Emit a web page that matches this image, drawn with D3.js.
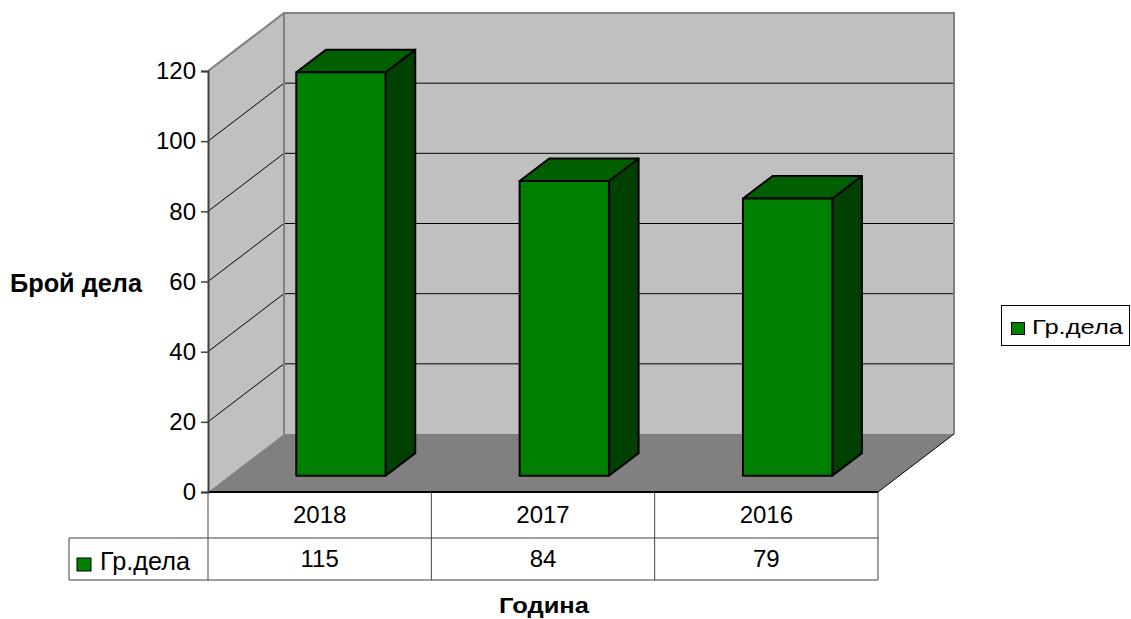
<!DOCTYPE html>
<html>
<head>
<meta charset="utf-8">
<script src="https://cdn.jsdelivr.net/npm/d3@7"></script>
<style>
  body { margin: 0; background: #fff; overflow: hidden; }
  svg { display: block; font-family: "Liberation Sans", Arial, sans-serif; }
</style>
</head>
<body>
<div class="plot"></div>
<script>
// DATA
var years = ["2018", "2017", "2016"];
var values = [115, 84, 79];
var yTicks = [0, 20, 40, 60, 80, 100, 120];
var seriesName = "Гр.дела";
var yTitle = "Брой дела";
var xTitle = "Година";

var w = 1131;
var h = 619;
// depth of the 3d box
var depthX = 76;
var depthY = -58;
var barFront = 0.28;
var barBack = 0.67;
var colors = { front: "#008000", top: "#006000", side: "#004000" };

var svg = d3.select(".plot").append("svg").attr("width", w).attr("height", h);

// SCALES
var xScale = d3.scaleBand()
  .domain(years)
  .range([208, 878])
  .paddingInner(0.6)
  .paddingOuter(0.3);

var catScale = d3.scaleBand()
  .domain(years)
  .range([208, 878]);

var yScale = d3.scaleLinear()
  .domain([0, 120])
  .range([492, 71]);

var x0 = xScale.range()[0], x1 = xScale.range()[1];
var yTop = yScale(120), yBot = yScale(0);

function pt(x, y, f) {
  return [x + f * depthX, y + f * depthY];
}
function poly(pts) {
  return pts.map(function (p) { return p.join(","); }).join(" ");
}

// WALLS
svg.append("polygon")
  .attr("points", poly([pt(x0, yTop, 1), pt(x1, yTop, 1), pt(x1, yBot, 1), pt(x0, yBot, 1)]))
  .attr("fill", "#c0c0c0");
svg.append("polygon")
  .attr("points", poly([pt(x0, yTop, 0), pt(x0, yTop, 1), pt(x0, yBot, 1), pt(x0, yBot, 0)]))
  .attr("fill", "#c0c0c0");

// floor
svg.append("polygon")
  .attr("points", poly([pt(x0, yBot, 0), pt(x1, yBot, 0), pt(x1, yBot, 1), pt(x0, yBot, 1)]))
  .attr("fill", "#808080");

// gridlines
var grid = svg.append("g").attr("class", "grid");
yTicks.filter(function (t) { return t > 0 && t < 120; }).forEach(function (t) {
  var a = pt(x0, yScale(t), 0), b = pt(x0, yScale(t), 1), c = pt(x1, yScale(t), 1);
  grid.append("polyline")
    .attr("points", poly([a, b, c]))
    .attr("fill", "none")
    .attr("stroke", "#000")
    .attr("stroke-width", 1);
});

// wall edges
svg.append("polyline")
  .attr("points", poly([pt(x0, yTop, 0), pt(x0, yTop, 1), pt(x1, yTop, 1), pt(x1, yBot, 1)]))
  .attr("fill", "none")
  .attr("stroke", "#808080")
  .attr("stroke-width", 2);
svg.append("line")
  .attr("x1", pt(x0, yTop, 1)[0]).attr("y1", pt(x0, yTop, 1)[1])
  .attr("x2", pt(x0, yBot, 1)[0]).attr("y2", pt(x0, yBot, 1)[1])
  .attr("stroke", "#808080")
  .attr("stroke-width", 2);

// BARS
var bars = svg.selectAll(".bar")
  .data(years.map(function (d, i) { return { year: d, value: values[i] }; }))
  .enter()
  .append("g")
  .attr("class", "bar")
  .attr("stroke", "#000")
  .attr("stroke-width", 2)
  .attr("stroke-linejoin", "round");

bars.append("polygon")
  .attr("fill", colors.side)
  .attr("points", function (d) {
    var xr = xScale(d.year) + xScale.bandwidth();
    return poly([pt(xr, yScale(d.value), barFront), pt(xr, yScale(d.value), barBack),
      pt(xr, yScale(0), barBack), pt(xr, yScale(0), barFront)]);
  });
bars.append("polygon")
  .attr("fill", colors.top)
  .attr("points", function (d) {
    var xl = xScale(d.year), xr = xl + xScale.bandwidth(), yv = yScale(d.value);
    return poly([pt(xl, yv, barFront), pt(xl, yv, barBack), pt(xr, yv, barBack), pt(xr, yv, barFront)]);
  });
bars.append("polygon")
  .attr("fill", colors.front)
  .attr("points", function (d) {
    var xl = xScale(d.year), xr = xl + xScale.bandwidth();
    return poly([pt(xl, yScale(d.value), barFront), pt(xr, yScale(d.value), barFront),
      pt(xr, yScale(0), barFront), pt(xl, yScale(0), barFront)]);
  });

// front floor edges
svg.append("line")
  .attr("x1", x0).attr("y1", yBot).attr("x2", x1).attr("y2", yBot)
  .attr("stroke", "#000").attr("stroke-width", 2);
svg.append("line")
  .attr("x1", x1).attr("y1", yBot)
  .attr("x2", pt(x1, yBot, 1)[0]).attr("y2", pt(x1, yBot, 1)[1])
  .attr("stroke", "#000").attr("stroke-width", 1);

// Y AXIS
var yAxis = d3.axisLeft(yScale)
  .tickValues(yTicks)
  .tickSize(7)
  .tickPadding(5);
var yg = svg.append("g")
  .attr("class", "axis y")
  .attr("transform", "translate(" + x0 + ",0)")
  .call(yAxis);
yg.select(".domain").attr("stroke", "#404040").attr("stroke-width", 2);
yg.selectAll(".tick line").attr("stroke", "#404040").attr("stroke-width", 1.5);
yg.selectAll("text")
  .attr("font-family", "Liberation Sans, Arial, sans-serif")
  .attr("font-size", "24px")
  .attr("fill", "#000");

// DATA TABLE
var table = svg.append("g").attr("class", "table")
  .attr("stroke", "#404040").attr("stroke-width", 1).attr("fill", "none");
var rowMid = 538, rowBot = 580, tableLeft = 69;
catScale.domain().forEach(function (d) {
  table.append("line")
    .attr("x1", catScale(d)).attr("x2", catScale(d))
    .attr("y1", yBot).attr("y2", rowBot);
});
table.append("line").attr("x1", x1).attr("x2", x1).attr("y1", yBot).attr("y2", rowBot);
table.append("line").attr("x1", tableLeft).attr("x2", tableLeft).attr("y1", rowMid).attr("y2", rowBot);
table.append("line").attr("x1", tableLeft).attr("x2", x1).attr("y1", rowMid).attr("y2", rowMid);
table.append("line").attr("x1", tableLeft).attr("x2", x1).attr("y1", rowBot).attr("y2", rowBot);

svg.selectAll(".yearLabel")
  .data(years)
  .enter()
  .append("text")
  .attr("class", "yearLabel")
  .attr("x", function (d) { return catScale(d) + catScale.bandwidth() / 2; })
  .attr("y", 523)
  .attr("text-anchor", "middle")
  .attr("font-size", "24px")
  .text(function (d) { return d; });

svg.selectAll(".valueLabel")
  .data(values)
  .enter()
  .append("text")
  .attr("class", "valueLabel")
  .attr("x", function (d, i) { return catScale(years[i]) + catScale.bandwidth() / 2; })
  .attr("y", 567)
  .attr("text-anchor", "middle")
  .attr("font-size", "24px")
  .text(function (d) { return d; });

svg.append("rect")
  .attr("x", 77).attr("y", 558).attr("width", 14).attr("height", 13)
  .attr("fill", colors.front).attr("stroke", "#000").attr("stroke-width", 1);
svg.append("text")
  .attr("x", 100).attr("y", 570)
  .attr("font-size", "25px")
  .attr("textLength", 90)
  .attr("lengthAdjust", "spacingAndGlyphs")
  .text(seriesName);

// LEGEND
svg.append("rect")
  .attr("x", 1001.5).attr("y", 305.5).attr("width", 128).attr("height", 40)
  .attr("fill", "#fff").attr("stroke", "#000").attr("stroke-width", 1);
svg.append("rect")
  .attr("x", 1011.5).attr("y", 322.5).attr("width", 13).attr("height", 12)
  .attr("fill", colors.front).attr("stroke", "#000").attr("stroke-width", 1);
svg.append("text")
  .attr("x", 1032).attr("y", 334)
  .attr("font-size", "21px")
  .attr("textLength", 91)
  .attr("lengthAdjust", "spacingAndGlyphs")
  .text(seriesName);

// AXIS TITLES
svg.append("text")
  .attr("x", 10).attr("y", 292)
  .attr("font-size", "25px")
  .attr("font-weight", "bold")
  .attr("textLength", 132)
  .attr("lengthAdjust", "spacingAndGlyphs")
  .text(yTitle);
svg.append("text")
  .attr("x", 499).attr("y", 613)
  .attr("font-size", "22px")
  .attr("font-weight", "bold")
  .attr("textLength", 90)
  .attr("lengthAdjust", "spacingAndGlyphs")
  .text(xTitle);
</script>
</body>
</html>
